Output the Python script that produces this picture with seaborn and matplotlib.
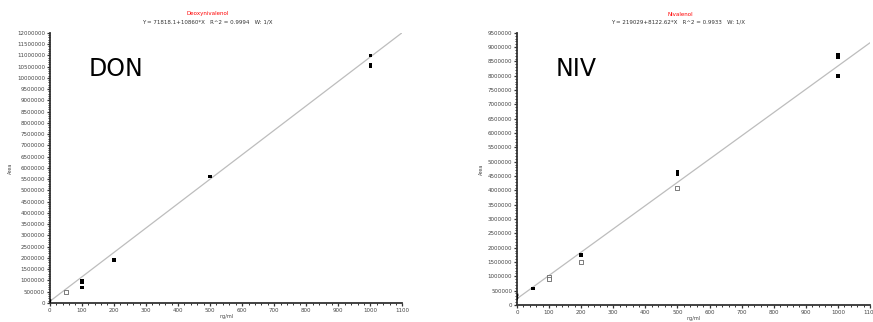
import numpy as np
import pandas as pd
import matplotlib.pyplot as plt
import seaborn as sns
from matplotlib.ticker import MultipleLocator

# calibration data
don_conc = [0, 0, 0, 50, 100, 100, 100, 200, 500, 1000, 1000, 1000]
don_area = [20000, 60000, 90000, 500000, 990000, 900000, 680000, 1910000,
            5620000, 11000000, 10580000, 10500000]
don_kind = ["tri", "tri", "tri", "open", "fill", "fill", "fill", "fill",
            "fill", "fill", "fill", "fill"]

niv_conc = [0, 0, 0, 50, 100, 100, 200, 200, 500, 500, 500, 1000, 1000, 1000]
niv_area = [200000, 280000, 330000, 580000, 980000, 900000, 1750000, 1500000,
            4650000, 4550000, 4100000, 8750000, 8650000, 8000000]
niv_kind = ["tri", "tri", "tri", "fill", "open", "open", "fill", "open",
            "fill", "fill", "open", "fill", "fill", "fill"]

# fitted curves
don_fit = (71818.1, 10860.0)
niv_fit = (219029.0, 8122.62)

don_title = "Deoxynivalenol"
don_eq = "Y = 71818.1+10860*X   R^2 = 0.9994   W: 1/X"
niv_title = "Nivalenol"
niv_eq = "Y = 219029+8122.62*X   R^2 = 0.9933   W: 1/X"

sns.set_style("ticks")
plt.rcParams['font.family'] = ['DejaVu Sans']

fig = plt.figure(figsize=(8.73, 3.22), dpi=100)

markers = {"tri": "v", "fill": "s", "open": "s"}


def draw_panel(ax, conc, area, kind, fit, ymax, ystep, tag):
    df = pd.DataFrame({"conc": conc, "area": area, "kind": kind})
    xs = np.linspace(0, 1100, 50)
    line = pd.DataFrame({"conc": xs, "area": fit[0] + fit[1] * xs})
    sns.lineplot(data=line, x="conc", y="area", ax=ax, color="#bdbdbd", lw=0.9)
    filled = df[df["kind"] != "open"]
    sns.scatterplot(data=filled, x="conc", y="area", style="kind", markers=markers,
                    ax=ax, color="black", s=6, linewidth=0, legend=False, zorder=5)
    hollow = df[df["kind"] == "open"]
    sns.scatterplot(data=hollow, x="conc", y="area", ax=ax, marker="s",
                    facecolor="white", edgecolor="#666666", s=6, linewidth=0.6,
                    legend=False, zorder=5)
    ax.set_xlim(0, 1100)
    ax.set_ylim(0, ymax)
    ax.xaxis.set_major_locator(MultipleLocator(100))
    ax.xaxis.set_minor_locator(MultipleLocator(20))
    ax.yaxis.set_major_locator(MultipleLocator(ystep))
    ax.yaxis.set_minor_locator(MultipleLocator(ystep / 5))
    ax.ticklabel_format(axis="y", style="plain")
    ax.tick_params(which="major", length=2.5, width=0.9, labelsize=4, pad=1, color="#333333",
                   labelcolor="#444444")
    ax.tick_params(which="minor", length=1.5, width=0.7, color="#333333")
    for s in ["top", "right"]:
        ax.spines[s].set_visible(False)
    for s in ["left", "bottom"]:
        ax.spines[s].set_linewidth(1.3)
        ax.spines[s].set_color("#333333")
    ax.set_xlabel("ng/ml", fontsize=3.5, labelpad=1, color="#444444")
    ax.set_ylabel("Area", fontsize=3.5, labelpad=3, color="#444444")
    ax.text(0.11, 0.84, tag, transform=ax.transAxes, fontsize=17, color="black")


ax1 = fig.add_axes([0.057, 0.059, 0.404, 0.839])
draw_panel(ax1, don_conc, don_area, don_kind, don_fit, 12000000, 500000, "DON")
fig.text(208 / 873, 1 - 14 / 322, don_title, color="red", fontsize=4, ha="center", va="center")
fig.text(207 / 873, 1 - 22 / 322, don_eq, color="#333333", fontsize=4, ha="center", va="center")

ax2 = fig.add_axes([517 / 873, 0.053, 353 / 873, 0.845])
draw_panel(ax2, niv_conc, niv_area, niv_kind, niv_fit, 9500000, 500000, "NIV")
fig.text(680 / 873, 1 - 14 / 322, niv_title, color="red", fontsize=4, ha="center", va="center")
fig.text(678 / 873, 1 - 22 / 322, niv_eq, color="#333333", fontsize=4, ha="center", va="center")

fig.savefig("out.png", dpi=100)
